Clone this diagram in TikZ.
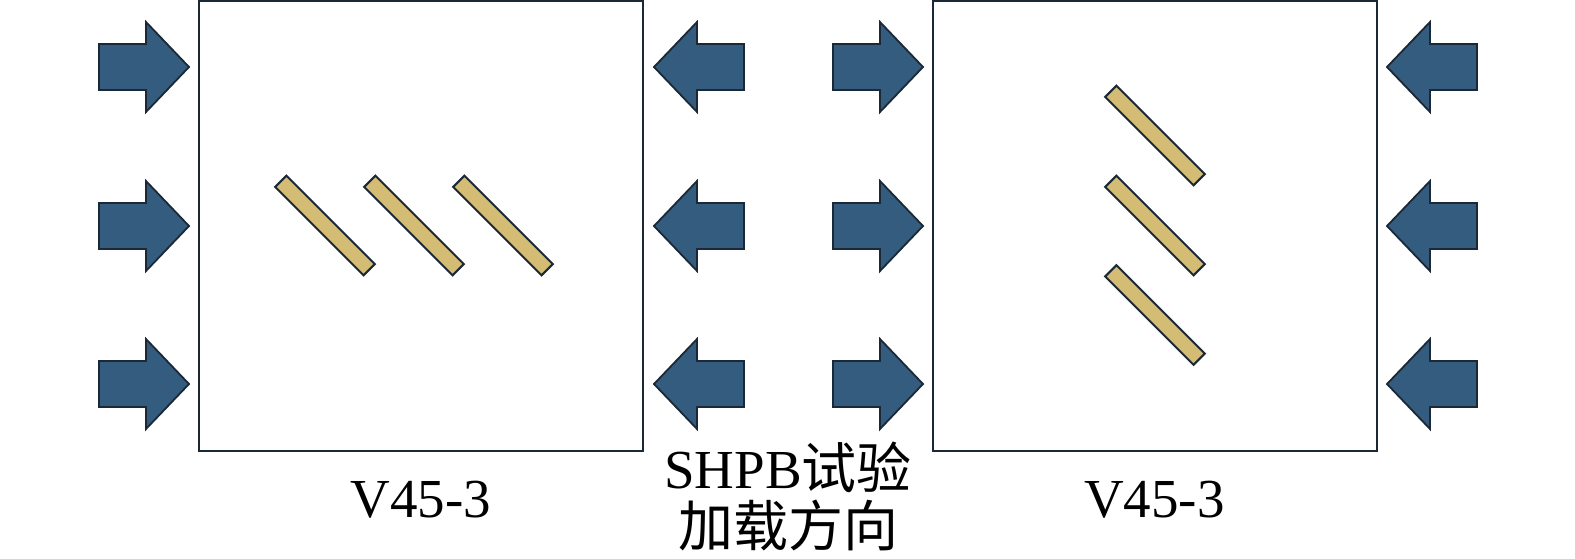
\documentclass[tikz,border=0pt]{standalone}
\usepackage{fontspec}
\setmainfont{Liberation Serif}
\newfontfamily\cjk{Noto Sans CJK SC}
\definecolor{push}{HTML}{335C7E}
\definecolor{ink}{HTML}{1B2836}
\definecolor{flaw}{HTML}{D4BC74}
\usetikzlibrary{positioning}
\tikzset{
  frame/.style={draw=ink,line width=2pt,minimum width=444pt,minimum height=450pt,inner sep=0pt},
  bar/.style={draw=ink,fill=flaw,line width=2pt,minimum width=125pt,minimum height=16pt,inner sep=0pt,rotate=-45},
  lab/.style={font=\fontsize{55}{58}\selectfont,align=center,inner sep=0pt},
  pusher/.pic={\filldraw[fill=push,draw=ink,line width=1.8pt,line join=miter]
    (0,0)--(-43,-45)--(-43,-23)--(-90,-23)--(-90,23)--(-43,23)--(-43,45)--cycle;},
}

\begin{document}
\begin{tikzpicture}[x=1pt,y=-1pt]
\useasboundingbox (0,0) rectangle (1575,558);
\node[frame] (lbox) at (421,226) {};
\node[frame] (rbox) at (1154.5,226) {};
% flaws
\foreach \i/\cx in {1/325,2/414,3/503} \node[bar] (lf\i) at (\cx,225.5) {};
\foreach \i/\cy in {1/135.5,2/225.5,3/315} \node[bar] (rf\i) at (1155,\cy) {};
% loading arrows
\foreach \y in {67,226,384}{
  \pic at (189,\y) {pusher};
  \pic at (923,\y) {pusher};
  \pic[xscale=-1] at (654,\y) {pusher};
  \pic[xscale=-1] at (1387,\y) {pusher};
}
\node[lab,below=29pt of lbox] (lname) {V45-3};
\node[lab,below=29pt of rbox] (rname) {V45-3};
\node[lab,anchor=north] (load) at (788,442) {SHPB{\cjk 试验}\\{\cjk 加载方向}};
\end{tikzpicture}
\end{document}
